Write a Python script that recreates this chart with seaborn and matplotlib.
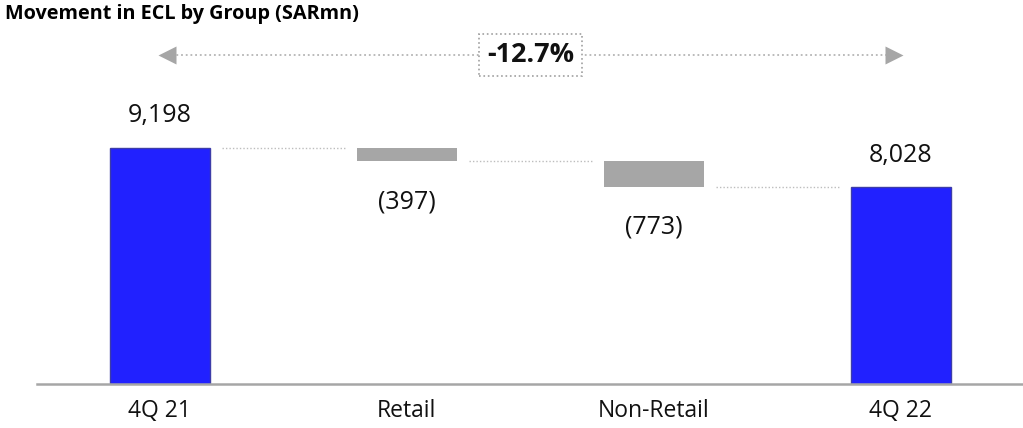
import numpy as np
import pandas as pd
import matplotlib
matplotlib.use("Agg")
import matplotlib.pyplot as plt
import matplotlib.transforms as mtrans
import seaborn as sns

# --- data ---
categories = ["4Q 21", "Retail", "Non-Retail", "4Q 22"]
values = [9198, -397, -773, 8028]
kinds = ["total", "delta", "delta", "total"]
value_labels = ["9,198", "(397)", "(773)", "8,028"]
title = "Movement in ECL by Group (SARmn)"
change_label = "-12.7%"

BLUE = "#2121FF"
GREY = "#A6A6A6"

sns.set_style("white")
plt.rcParams["font.family"] = ["Open Sans", "DejaVu Sans"]

# running totals for the waterfall
tops, bottoms, levels = [], [], []
running = 0
for v, k in zip(values, kinds):
    if k == "total":
        running = v
        tops.append(v)
        bottoms.append(0)
    else:
        start = running
        running = running + v
        tops.append(max(start, running))
        bottoms.append(min(start, running))
    levels.append(running)

df = pd.DataFrame({"cat": categories, "top": tops, "bottom": bottoms, "kind": kinds})

fig = plt.figure(figsize=(10.23, 4.28), dpi=100)
ax = fig.add_axes([0.036, 0.1028, 0.964, 0.8037])

bar_w = 0.405
sns.barplot(data=df, x="cat", y="top", hue="kind", palette={"total": BLUE, "delta": GREY},
            width=bar_w, dodge=False, legend=False, ax=ax, saturation=1)

# floating bars: move the delta patches to their bottoms
for patch in ax.patches:
    xc = patch.get_x() + patch.get_width() / 2
    i = int(round(xc))
    if i < 0 or i >= len(categories) or patch.get_height() == 0:
        continue
    patch.set_y(bottoms[i])
    patch.set_height(tops[i] - bottoms[i])
    if kinds[i] == "total":
        patch.set_edgecolor("#3D3DA8")
        patch.set_linewidth(1.0)
    else:
        patch.set_edgecolor("none")

ax.set_xlim(-0.498, 3.494)
ax.set_ylim(2150, 12420)

# connectors
gap = 0.05
for i in range(len(categories) - 1):
    ax.plot([i + bar_w / 2 + gap, i + 1 - bar_w / 2 - gap], [levels[i], levels[i]],
            color="#BDBDBD", lw=1.0, ls=(0, (1, 1.5)), zorder=1)

# value labels
for i, lab in enumerate(value_labels):
    if kinds[i] == "total":
        ax.annotate(lab, (i, tops[i]), xytext=(0, 23), textcoords="offset points",
                    ha="center", va="center", fontsize=18, color="#111111")
    else:
        ax.annotate(lab, (i, bottoms[i]), xytext=(0, -29), textcoords="offset points",
                    ha="center", va="center", fontsize=18, color="#111111")

# change arrow across the top
trans = mtrans.blended_transform_factory(ax.transData, fig.transFigure)
arrow_y = 1 - 55 / 428
head = 0.03
ax.plot([head, len(categories) - 1 - head], [arrow_y, arrow_y], transform=trans,
        color="#B5B5B5", lw=1.3, ls=(0, (1, 1.6)), clip_on=False, zorder=2)
ax.plot([head], [arrow_y], transform=trans, marker="<", ms=13, color=GREY,
        mec="none", clip_on=False)
ax.plot([len(categories) - 1 - head], [arrow_y], transform=trans, marker=">", ms=13,
        color=GREY, mec="none", clip_on=False)
ax.text(1.5, arrow_y, change_label, transform=trans, ha="center", va="center",
        fontsize=19.5, fontweight="bold", color="#111111", zorder=5,
        bbox=dict(boxstyle="square,pad=0.3", fc="white", ec="#A0A0A0", ls=":", lw=1.2))

# axes styling
sns.despine(ax=ax, left=True, top=True, right=True)
ax.spines["bottom"].set_color("#A6A6A6")
ax.spines["bottom"].set_linewidth(1.8)
ax.set_yticks([])
ax.set_xlabel("")
ax.set_ylabel("")
ax.tick_params(axis="x", length=0, pad=11, labelsize=16.5, labelcolor="#111111")

fig.text(0.005, 1 - 14 / 428, title, ha="left", va="center", fontsize=14.3,
         fontweight="bold", color="#000000")

fig.savefig("out.png", dpi=100)
